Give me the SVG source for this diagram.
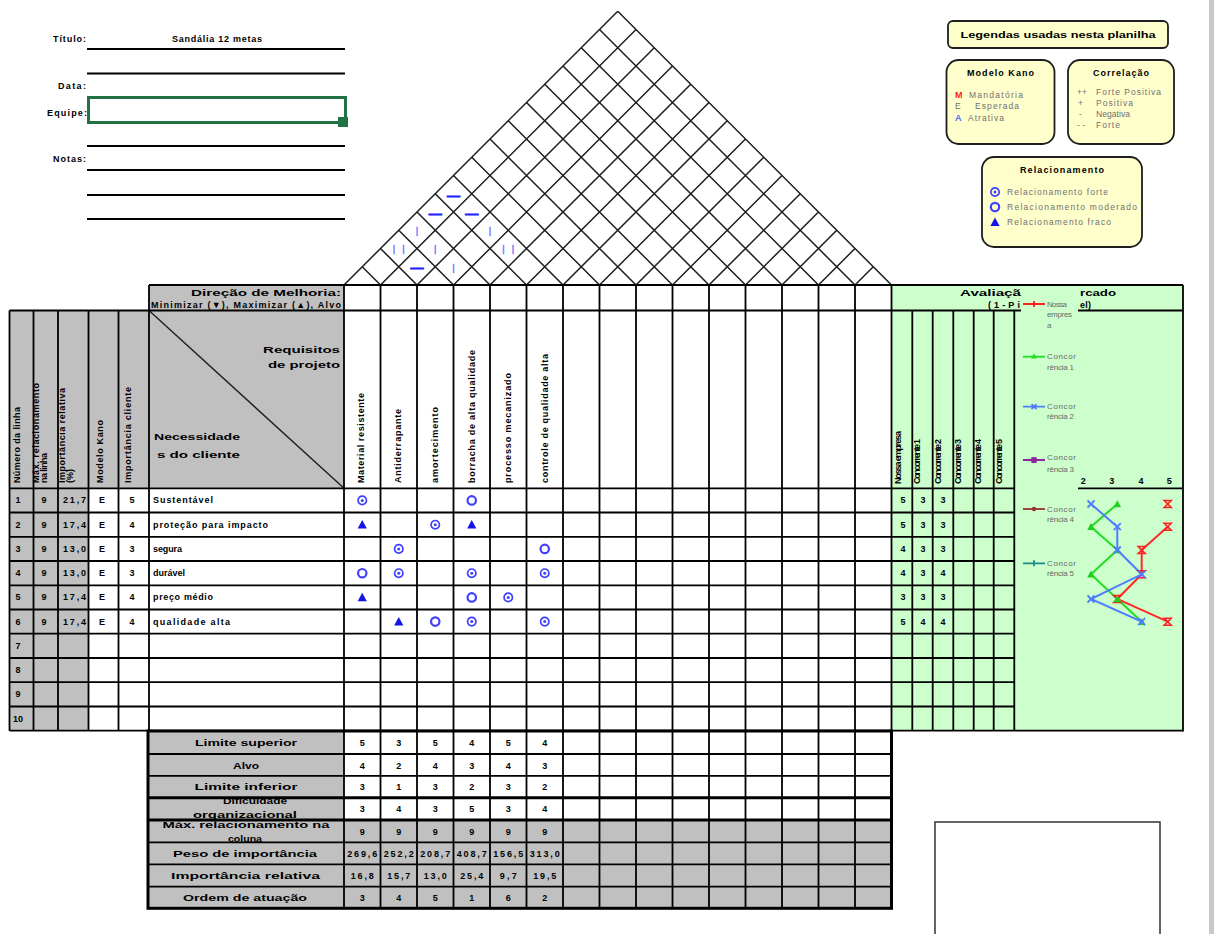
<svg xmlns="http://www.w3.org/2000/svg" width="1218" height="934" viewBox="0 0 1218 934">
<defs>
<style>
.t{font-family:"Liberation Sans",Arial,sans-serif;font-weight:bold;font-size:9px;fill:#000}
.m{text-anchor:middle}
.e{text-anchor:end}
.lg{font-family:"Liberation Sans",Arial,sans-serif;font-size:8.5px;fill:#707070}
.ch{font-family:"Liberation Sans",Arial,sans-serif;font-size:8px;fill:#6a6a6a}
.grid{stroke:#000;stroke-width:1.8;fill:none}
.thick{stroke:#000;stroke-width:3;fill:none}
.roof{stroke:#1e1e1e;stroke-width:1.5;fill:none}
.box{fill:#ffffcc;stroke:#1e1e1e;stroke-width:1.8}
.gray{fill:#c0c0c0}
.green{fill:#ccffcc}
.dash{font-family:"Liberation Sans",Arial,sans-serif;font-size:13px;text-anchor:middle;fill:#2222ff;stroke:#2222ff;stroke-width:0.9}
.bar{font-family:"Liberation Sans",Arial,sans-serif;font-size:9.5px;text-anchor:middle;fill:#7070ff;stroke:#7070ff;stroke-width:0.4}
.line{fill:none;stroke-width:2}
</style>
<g id="rs"><circle r="4.2" fill="none" stroke="#4040ff" stroke-width="1.7"/><circle r="1.5" fill="#4040ff"/></g>
<g id="rm"><circle r="4.2" fill="none" stroke="#4040ff" stroke-width="2.2"/></g>
<polygon id="rw" points="0,-4.6 4.6,3.9 -4.6,3.9" fill="#1414e6"/>
<path id="mk-r" d="M-3.5-3.5H3.5L-3.5 3.5H3.5Z" fill="none" stroke="#ff2020" stroke-width="1.6"/>
<path id="mk-b" d="M-3.5-3.5L3.5 3.5M3.5-3.5L-3.5 3.5" stroke="#4f7dff" stroke-width="1.8"/>
<polygon id="mk-g" points="0,-3.8 3.8,3.2 -3.8,3.2" fill="#1ecf1e"/>
<clipPath id="clip-dif"><rect x="148" y="799" width="196" height="20"/></clipPath>
<clipPath id="clip-max"><rect x="148" y="821.5" width="196" height="20.5"/></clipPath>
</defs>

<rect width="1218" height="934" fill="#fff"/>
<rect x="1209" y="0" width="5" height="934" fill="#c8c8c8"/>

<!-- title block -->
<g id="title-block">
<text class="t e" x="86" y="41.5" font-size="10" textLength="33">Título:</text>
<text class="t m" x="217" y="41.5" font-size="10" textLength="90">Sandália 12 metas</text>
<text class="t e" x="86" y="88.5" font-size="10" textLength="28">Data:</text>
<text class="t e" x="87" y="115.5" font-size="10" textLength="40">Equipe:</text>
<text class="t e" x="86" y="161.5" font-size="10" textLength="33">Notas:</text>
<path d="M87 49H345M87 73.5H345M87 146H345M87 170H345M87 195H345M87 219H345" stroke="#000" stroke-width="1.8"/>
<rect x="88.5" y="97.5" width="257" height="25" fill="none" stroke="#217346" stroke-width="3"/>
<rect x="338" y="117" width="10" height="10" fill="#217346"/>
</g>

<!-- legend boxes -->
<g id="legend-title">
<rect class="box" x="948" y="21" width="220" height="27" rx="5"/>
<text class="t m" x="1058" y="38" font-size="10" textLength="195" lengthAdjust="spacingAndGlyphs">Legendas usadas nesta planilha</text>
</g>
<g id="legend-kano">
<rect class="box" x="946.5" y="60" width="108" height="84" rx="12"/>
<text class="t m" x="1000.5" y="76" font-size="9.5" textLength="67">Modelo Kano</text>
<text class="t" x="955" y="97.5" style="fill:#ff2020">M</text>
<text class="lg" x="969" y="97.5" textLength="54">Mandatória</text>
<text class="lg" x="955" y="109">E</text>
<text class="lg" x="975" y="109" textLength="44">Esperada</text>
<text class="t" x="955" y="120.5" style="fill:#4a6cff">A</text>
<text class="lg" x="968" y="120.5" textLength="36">Atrativa</text>
</g>
<g id="legend-correlacao">
<rect class="box" x="1068" y="60" width="106" height="84" rx="12"/>
<text class="t m" x="1121" y="76" font-size="9.5" textLength="56">Correlação</text>
<text class="lg" x="1077" y="95">++</text>
<text class="lg" x="1096" y="95" textLength="65">Forte Positiva</text>
<text class="lg" x="1078" y="106">+</text>
<text class="lg" x="1096" y="106" textLength="37">Positiva</text>
<text class="lg" x="1079" y="117">-</text>
<text class="lg" x="1096" y="117" textLength="34">Negativa</text>
<text class="lg" x="1077" y="128">- -</text>
<text class="lg" x="1096" y="128" textLength="24">Forte</text>
</g>
<g id="legend-relacionamento">
<rect class="box" x="982" y="157" width="160" height="90" rx="12"/>
<text class="t m" x="1062" y="173" font-size="9.5" textLength="84">Relacionamento</text>
<use href="#rs" x="995" y="192"/>
<text class="lg" x="1007" y="195" textLength="101">Relacionamento forte</text>
<use href="#rm" x="995" y="207"/>
<text class="lg" x="1007" y="210" textLength="130">Relacionamento moderado</text>
<use href="#rw" x="995" y="222"/>
<text class="lg" x="1007" y="225" textLength="104">Relacionamento fraco</text>
</g>

<!-- roof: correlation matrix -->
<g id="roof">
<path class="roof" d="M344 285L617.75 11.25M380.5 285L636 29.5M417 285L654.25 47.75M453.5 285L672.5 66M490 285L690.75 84.25M526.5 285L709 102.5M563 285L727.25 120.75M599.5 285L745.5 139M636 285L763.75 157.25M672.5 285L782 175.5M709 285L800.25 193.75M745.5 285L818.5 212M782 285L836.75 230.25M818.5 285L855 248.5M855 285L873.25 266.75M380.5 285L362.25 266.75M417 285L380.5 248.5M453.5 285L398.75 230.25M490 285L417 212M526.5 285L435.25 193.75M563 285L453.5 175.5M599.5 285L471.75 157.25M636 285L490 139M672.5 285L508.25 120.75M709 285L526.5 102.5M745.5 285L544.75 84.25M782 285L563 66M818.5 285L581.25 47.75M855 285L599.5 29.5M891.5 285L617.75 11.25"/>
<text class="dash" x="453.5" y="199.5">—</text>
<text class="dash" x="435.25" y="217.5">—</text>
<text class="dash" x="471.75" y="217.5">—</text>
<text class="dash" x="417" y="272">—</text>
<text class="bar" x="417" y="233.5">|</text>
<text class="bar" x="490" y="233.5">|</text>
<text class="bar" x="435.25" y="252">|</text>
<text class="bar" x="453.5" y="270.5">|</text>
<text class="bar" x="398.75" y="252" textLength="12" lengthAdjust="spacing">| |</text>
<text class="bar" x="508.25" y="252" textLength="12" lengthAdjust="spacing">| |</text>
</g>

<!-- fills -->
<g id="fills">
<rect class="gray" x="149" y="285" width="195" height="25.5"/>
<rect class="gray" x="9.5" y="310.5" width="334.5" height="177.8"/>
<rect class="gray" x="9.5" y="488.3" width="79" height="242.4"/>
<rect class="green" x="892" y="285" width="291" height="446"/>
<rect class="gray" x="148" y="731" width="196" height="177.3"/>
<rect class="gray" x="344" y="820" width="547.5" height="88.3"/>
</g>

<!-- header texts -->
<g id="header">
<text class="t e" x="341" y="296" font-size="10.5" textLength="150" lengthAdjust="spacingAndGlyphs">Direção de Melhoria:</text>
<text class="t" x="151" y="307.5" font-size="8.5" textLength="190">Minimizar (▼), Maximizar (▲), Alvo</text>
<text class="t e" x="340" y="352.5" font-size="10.5" textLength="77" lengthAdjust="spacingAndGlyphs">Requisitos</text>
<text class="t e" x="340" y="367.5" font-size="10.5" textLength="72" lengthAdjust="spacingAndGlyphs">de projeto</text>
<text class="t" x="154" y="439.5" font-size="10.5" textLength="86" lengthAdjust="spacingAndGlyphs">Necessidade</text>
<text class="t" x="157" y="457.5" font-size="10.5" textLength="83" lengthAdjust="spacingAndGlyphs">s do cliente</text>
<path d="M149 310.5L344 488.3" stroke="#1e1e1e" stroke-width="1.4"/>
<text class="t" font-size="7" transform="translate(19.5 483) rotate(-90)" textLength="76">Número da linha</text>
<text class="t" font-size="7" transform="translate(39.3 483) rotate(-90)" textLength="100">Máx. relacionamento</text>
<text class="t" font-size="7" transform="translate(47.3 483) rotate(-90)" textLength="30">na linha</text>
<text class="t" font-size="7" transform="translate(65.3 483) rotate(-90)" textLength="95">Importância relativa</text>
<text class="t" font-size="7" transform="translate(73.3 483) rotate(-90)" textLength="14">(%)</text>
<text class="t" font-size="7" transform="translate(102.5 483) rotate(-90)" textLength="63">Modelo Kano</text>
<text class="t" font-size="7" transform="translate(130.5 483) rotate(-90)" textLength="96">Importância cliente</text>
<text class="t" font-size="8" transform="translate(364 483) rotate(-90)" textLength="90">Material resistente</text>
<text class="t" font-size="8" transform="translate(401 483) rotate(-90)" textLength="74">Antiderrapante</text>
<text class="t" font-size="8" transform="translate(437.5 483) rotate(-90)" textLength="76">amortecimento</text>
<text class="t" font-size="8" transform="translate(474.5 483) rotate(-90)" textLength="133">borracha de alta qualidade</text>
<text class="t" font-size="8" transform="translate(511 483) rotate(-90)" textLength="110">processo mecanizado</text>
<text class="t" font-size="8" transform="translate(547.5 483) rotate(-90)" textLength="129">controle de qualidade alta</text>
</g>

<!-- customer needs rows -->
<g id="rows">
<text class="t m" x="18" y="503.4">1</text><text class="t m" x="18" y="527.7">2</text><text class="t m" x="18" y="551.9">3</text><text class="t m" x="18" y="576.2">4</text><text class="t m" x="18" y="600.4">5</text><text class="t m" x="18" y="624.6">6</text><text class="t m" x="18" y="648.9">7</text><text class="t m" x="18" y="673.1">8</text><text class="t m" x="18" y="697.4">9</text><text class="t m" x="18" y="721.6" textLength="10">10</text>
<text class="t m" x="44" y="503.4">9</text><text class="t m" x="44" y="527.7">9</text><text class="t m" x="44" y="551.9">9</text><text class="t m" x="44" y="576.2">9</text><text class="t m" x="44" y="600.4">9</text><text class="t m" x="44" y="624.6">9</text>
<text class="t m" x="74.5" y="503.4" textLength="23">21,7</text><text class="t m" x="74.5" y="527.7" textLength="23">17,4</text><text class="t m" x="74.5" y="551.9" textLength="23">13,0</text><text class="t m" x="74.5" y="576.2" textLength="23">13,0</text><text class="t m" x="74.5" y="600.4" textLength="23">17,4</text><text class="t m" x="74.5" y="624.6" textLength="23">17,4</text>
<text class="t m" x="102" y="503.4">E</text><text class="t m" x="102" y="527.7">E</text><text class="t m" x="102" y="551.9">E</text><text class="t m" x="102" y="576.2">E</text><text class="t m" x="102" y="600.4">E</text><text class="t m" x="102" y="624.6">E</text>
<text class="t m" x="132" y="503.4">5</text><text class="t m" x="132" y="527.7">4</text><text class="t m" x="132" y="551.9">3</text><text class="t m" x="132" y="576.2">3</text><text class="t m" x="132" y="600.4">4</text><text class="t m" x="132" y="624.6">4</text>
<text class="t" x="153" y="503.4" textLength="60">Sustentável</text>
<text class="t" x="153" y="527.7" textLength="115">proteção para impacto</text>
<text class="t" x="153" y="551.9" textLength="29">segura</text>
<text class="t" x="153" y="576.2" textLength="32">durável</text>
<text class="t" x="153" y="600.4" textLength="60">preço médio</text>
<text class="t" x="153" y="624.6" textLength="77">qualidade alta</text>
</g>

<!-- relationship matrix -->
<g id="relationships">
<use href="#rs" x="362.25" y="500.4"/><use href="#rm" x="471.75" y="500.4"/>
<use href="#rw" x="362.25" y="524.7"/><use href="#rs" x="435.25" y="524.7"/><use href="#rw" x="471.75" y="524.7"/>
<use href="#rs" x="398.75" y="548.9"/><use href="#rm" x="544.75" y="548.9"/>
<use href="#rm" x="362.25" y="573.2"/><use href="#rs" x="398.75" y="573.2"/><use href="#rs" x="471.75" y="573.2"/><use href="#rs" x="544.75" y="573.2"/>
<use href="#rw" x="362.25" y="597.4"/><use href="#rm" x="471.75" y="597.4"/><use href="#rs" x="508.25" y="597.4"/>
<use href="#rw" x="398.75" y="621.6"/><use href="#rm" x="435.25" y="621.6"/><use href="#rs" x="471.75" y="621.6"/><use href="#rs" x="544.75" y="621.6"/>
</g>

<!-- market evaluation (header partly hidden behind the chart legend) -->
<g id="market">
<text class="t" x="960" y="295.5" font-size="10" textLength="61" lengthAdjust="spacingAndGlyphs">Avaliaçã</text>
<text class="t" x="1080" y="295.5" font-size="10" textLength="36" lengthAdjust="spacingAndGlyphs">rcado</text>
<text class="t" x="988" y="307.5" textLength="32">(1-Pi</text>
<text class="t" x="1080" y="307.5" textLength="11">el)</text>
<text class="t" font-size="6.5" transform="translate(901 484) rotate(-90)" textLength="53">Nossa empresa</text>
<text class="t" font-size="6.5" transform="translate(920.3 484) rotate(-90)" textLength="45">Concorrente 1</text>
<text class="t" font-size="6.5" transform="translate(940.5 484) rotate(-90)" textLength="45">Concorrente 2</text>
<text class="t" font-size="6.5" transform="translate(961 484) rotate(-90)" textLength="45">Concorrente 3</text>
<text class="t" font-size="6.5" transform="translate(981.3 484) rotate(-90)" textLength="45">Concorrente 4</text>
<text class="t" font-size="6.5" transform="translate(1001.5 484) rotate(-90)" textLength="45">Concorrente 5</text>
<text class="t m" x="903" y="503.4">5</text><text class="t m" x="923" y="503.4">3</text><text class="t m" x="943" y="503.4">3</text>
<text class="t m" x="903" y="527.7">5</text><text class="t m" x="923" y="527.7">3</text><text class="t m" x="943" y="527.7">3</text>
<text class="t m" x="903" y="551.9">4</text><text class="t m" x="923" y="551.9">3</text><text class="t m" x="943" y="551.9">3</text>
<text class="t m" x="903" y="576.2">4</text><text class="t m" x="923" y="576.2">3</text><text class="t m" x="943" y="576.2">4</text>
<text class="t m" x="903" y="600.4">3</text><text class="t m" x="923" y="600.4">3</text><text class="t m" x="943" y="600.4">3</text>
<text class="t m" x="903" y="624.6">5</text><text class="t m" x="923" y="624.6">4</text><text class="t m" x="943" y="624.6">4</text>
</g>

<!-- grid lines -->
<g id="grid">
<path class="grid" d="M9.5 310.5V730.7M33.5 310.5V730.7M58 310.5V730.7M88.5 310.5V730.7M118.5 310.5V730.7M149 285V730.7M344 285V730.7M380.5 285V730.7M417 285V730.7M453.5 285V730.7M490 285V730.7M526.5 285V730.7M563 285V730.7M599.5 285V730.7M636 285V730.7M672.5 285V730.7M709 285V730.7M745.5 285V730.7M782 285V730.7M818.5 285V730.7M855 285V730.7M891.5 285V730.7M912.3 310.5V730.7M932.7 310.5V730.7M953.3 310.5V730.7M973.7 310.5V730.7M993.7 310.5V730.7M1014.3 310.5V730.7M1183 285V731.5"/>
<path class="grid" d="M149 285H1183M9.5 310.5H1021M1078 310.5H1183M9.5 488.3H1014.3M9.5 512.5H1014.3M9.5 536.8H1014.3M9.5 561H1014.3M9.5 585.3H1014.3M9.5 609.5H1014.3M9.5 633.7H1014.3M9.5 658H1014.3M9.5 682.2H1014.3M9.5 706.5H1014.3M9.5 730.7H1183M1078 488.3H1182"/>
</g>

<!-- market chart -->
<g id="market-chart">
<text class="t m" x="1083.3" y="484" font-size="7.5">2</text>
<text class="t m" x="1111.7" y="484" font-size="7.5">3</text>
<text class="t m" x="1141" y="484" font-size="7.5">4</text>
<text class="t m" x="1169.3" y="484" font-size="7.5">5</text>
<polyline class="line" stroke="#ff2a2a" points="1167.7,526.7 1141.7,550 1141.7,574.3 1117.3,599 1167.7,621.7"/>
<polyline class="line" stroke="#22dd22" points="1117.3,504 1091,526.7 1117.3,550 1091,574.3 1117.3,599 1141.7,621.7"/>
<polyline class="line" stroke="#4f7dff" points="1091,504 1117.3,526.7 1117.3,550 1141.7,574.3 1091,599 1141.7,621.7"/>
<use href="#mk-r" x="1167.7" y="504"/><use href="#mk-r" x="1167.7" y="526.7"/><use href="#mk-r" x="1141.7" y="550"/><use href="#mk-r" x="1141.7" y="574.3"/><use href="#mk-r" x="1117.3" y="599"/><use href="#mk-r" x="1167.7" y="621.7"/>
<use href="#mk-g" x="1117.3" y="504"/><use href="#mk-g" x="1091" y="526.7"/><use href="#mk-g" x="1117.3" y="550"/><use href="#mk-g" x="1091" y="574.3"/><use href="#mk-g" x="1117.3" y="599"/><use href="#mk-g" x="1141.7" y="621.7"/>
<use href="#mk-b" x="1091" y="504"/><use href="#mk-b" x="1117.3" y="526.7"/><use href="#mk-b" x="1117.3" y="550"/><use href="#mk-b" x="1141.7" y="574.3"/><use href="#mk-b" x="1091" y="599"/><use href="#mk-b" x="1141.7" y="621.7"/>
</g>

<!-- chart legend -->
<g id="chart-legend">
<path d="M1023 304H1045M1034 301V307" stroke="#ff2020" stroke-width="1.8"/>
<text class="ch" x="1047" y="306.5" textLength="20">Nossa</text>
<text class="ch" x="1047" y="316.5" textLength="25">empres</text>
<text class="ch" x="1047" y="327.5">a</text>
<path d="M1023 356.7H1045" stroke="#22dd22" stroke-width="1.8"/><polygon points="1034,353.5 1037,358.5 1031,358.5" fill="#22dd22"/>
<text class="ch" x="1047" y="358.5" textLength="29">Concor</text>
<text class="ch" x="1047" y="370" textLength="27">rência 1</text>
<path d="M1023 406.7H1045M1031.5 404.2L1036.5 409.2M1036.5 404.2L1031.5 409.2" stroke="#4f7dff" stroke-width="1.8"/>
<text class="ch" x="1047" y="408.5" textLength="29">Concor</text>
<text class="ch" x="1047" y="419" textLength="27">rência 2</text>
<path d="M1023 460H1045M1031.5 457.5L1036.5 462.5M1036.5 457.5L1031.5 462.5M1034 457V463" stroke="#8a2a9a" stroke-width="1.8"/>
<text class="ch" x="1047" y="459.5" textLength="29">Concor</text>
<text class="ch" x="1047" y="472" textLength="27">rência 3</text>
<path d="M1023 509H1045" stroke="#993333" stroke-width="1.8"/><circle cx="1034" cy="509" r="2.2" fill="#993333"/>
<text class="ch" x="1047" y="511.5" textLength="29">Concor</text>
<text class="ch" x="1047" y="522" textLength="27">rência 4</text>
<path d="M1023 563.3H1045M1034 560.3V566.3" stroke="#1a8a8a" stroke-width="1.8"/>
<text class="ch" x="1047" y="565.5" textLength="29">Concor</text>
<text class="ch" x="1047" y="576" textLength="27">rência 5</text>
</g>

<!-- technical targets -->
<g id="targets">
<path class="grid" d="M344 731V908.3M380.5 731V908.3M417 731V908.3M453.5 731V908.3M490 731V908.3M526.5 731V908.3M563 731V908.3M599.5 731V908.3M636 731V908.3M672.5 731V908.3M709 731V908.3M745.5 731V908.3M782 731V908.3M818.5 731V908.3M855 731V908.3M148 754H891.5M148 775.8H891.5M148 842.3H891.5M148 864.3H891.5M148 886.7H891.5"/>
<path class="thick" d="M148 797.7H891.5M148 820H891.5"/>
<rect class="thick" x="148" y="731" width="743.5" height="177.3"/>
<text class="t m" x="246" y="746" font-size="10" textLength="102" lengthAdjust="spacingAndGlyphs">Limite superior</text>
<text class="t m" x="246" y="768.5" font-size="10" textLength="26" lengthAdjust="spacingAndGlyphs">Alvo</text>
<text class="t m" x="246" y="790" font-size="10" textLength="103" lengthAdjust="spacingAndGlyphs">Limite inferior</text>
<g clip-path="url(#clip-dif)">
<text class="t m" x="255" y="804" font-size="10" textLength="64" lengthAdjust="spacingAndGlyphs">Dificuldade</text>
<text class="t m" x="245" y="818" font-size="10" textLength="104" lengthAdjust="spacingAndGlyphs">organizacional</text>
</g>
<g clip-path="url(#clip-max)">
<text class="t m" x="246" y="827.5" font-size="10" textLength="167" lengthAdjust="spacingAndGlyphs">Máx. relacionamento na</text>
<text class="t m" x="245" y="841.5" font-size="10" textLength="34" lengthAdjust="spacingAndGlyphs">coluna</text>
</g>
<text class="t m" x="245" y="856.5" font-size="10" textLength="144" lengthAdjust="spacingAndGlyphs">Peso de importância</text>
<text class="t m" x="245.5" y="878.5" font-size="10" textLength="149" lengthAdjust="spacingAndGlyphs">Importância relativa</text>
<text class="t m" x="245" y="900.5" font-size="10" textLength="124" lengthAdjust="spacingAndGlyphs">Ordem de atuação</text>
<text class="t m" x="362.25" y="746">5</text><text class="t m" x="398.75" y="746">3</text><text class="t m" x="435.25" y="746">5</text><text class="t m" x="471.75" y="746">4</text><text class="t m" x="508.25" y="746">5</text><text class="t m" x="544.75" y="746">4</text>
<text class="t m" x="362.25" y="768.5">4</text><text class="t m" x="398.75" y="768.5">2</text><text class="t m" x="435.25" y="768.5">4</text><text class="t m" x="471.75" y="768.5">3</text><text class="t m" x="508.25" y="768.5">4</text><text class="t m" x="544.75" y="768.5">3</text>
<text class="t m" x="362.25" y="790">3</text><text class="t m" x="398.75" y="790">1</text><text class="t m" x="435.25" y="790">3</text><text class="t m" x="471.75" y="790">2</text><text class="t m" x="508.25" y="790">3</text><text class="t m" x="544.75" y="790">2</text>
<text class="t m" x="362.25" y="812">3</text><text class="t m" x="398.75" y="812">4</text><text class="t m" x="435.25" y="812">3</text><text class="t m" x="471.75" y="812">5</text><text class="t m" x="508.25" y="812">3</text><text class="t m" x="544.75" y="812">4</text>
<text class="t m" x="362.25" y="834.5">9</text><text class="t m" x="398.75" y="834.5">9</text><text class="t m" x="435.25" y="834.5">9</text><text class="t m" x="471.75" y="834.5">9</text><text class="t m" x="508.25" y="834.5">9</text><text class="t m" x="544.75" y="834.5">9</text>
<text class="t m" x="362.25" y="856.5" textLength="30">269,6</text><text class="t m" x="398.75" y="856.5" textLength="30">252,2</text><text class="t m" x="435.25" y="856.5" textLength="30">208,7</text><text class="t m" x="471.75" y="856.5" textLength="30">408,7</text><text class="t m" x="508.25" y="856.5" textLength="30">156,5</text><text class="t m" x="544.75" y="856.5" textLength="30">313,0</text>
<text class="t m" x="362.25" y="878.5" textLength="23">16,8</text><text class="t m" x="398.75" y="878.5" textLength="23">15,7</text><text class="t m" x="435.25" y="878.5" textLength="23">13,0</text><text class="t m" x="471.75" y="878.5" textLength="23">25,4</text><text class="t m" x="508.25" y="878.5" textLength="17">9,7</text><text class="t m" x="544.75" y="878.5" textLength="23">19,5</text>
<text class="t m" x="362.25" y="900.5">3</text><text class="t m" x="398.75" y="900.5">4</text><text class="t m" x="435.25" y="900.5">5</text><text class="t m" x="471.75" y="900.5">1</text><text class="t m" x="508.25" y="900.5">6</text><text class="t m" x="544.75" y="900.5">2</text>
</g>

<rect id="notes-frame" x="935" y="822" width="225" height="120" fill="#fff" stroke="#333" stroke-width="1.5"/>
</svg>
